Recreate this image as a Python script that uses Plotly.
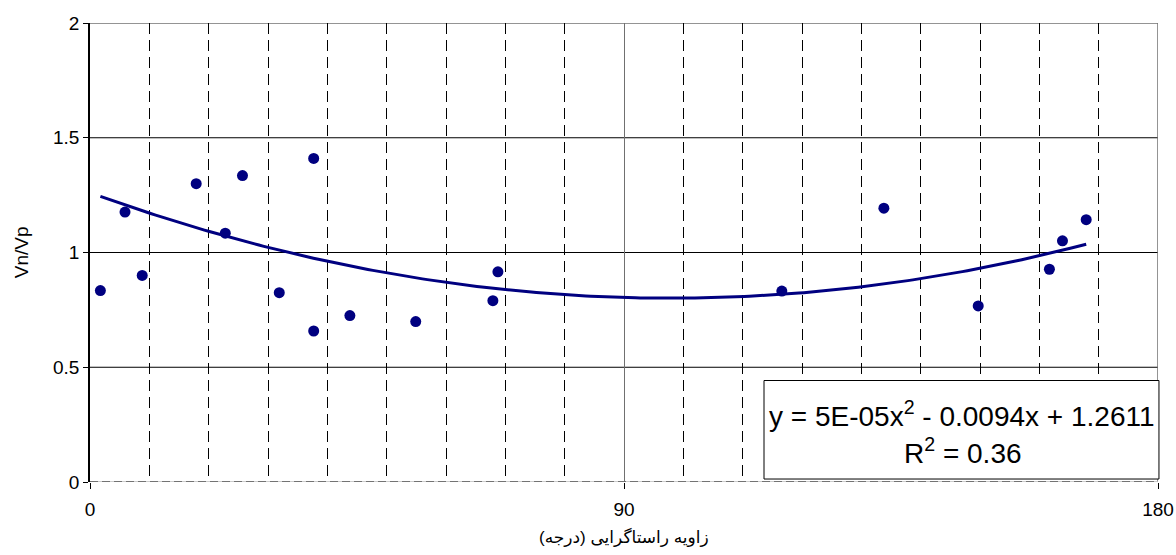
import numpy as np
import plotly.graph_objects as go

# ---- data ----
angle = [1.75, 5.9, 8.8, 17.9, 22.8, 25.7, 31.9, 37.7, 37.7, 43.8, 54.9,
         67.9, 68.75, 116.6, 133.8, 149.7, 161.7, 163.9, 167.9]
ratio = [0.834, 1.176, 0.900, 1.300, 1.084, 1.335, 0.825, 1.410, 0.658, 0.725,
         0.699, 0.790, 0.916, 0.832, 1.193, 0.767, 0.927, 1.051, 1.143]

# trend-line coefficients as shown on the chart (a x^2 + b x + c)
trend_coef = [4.8e-05, -0.0094, 1.2611]

x_ticks = [0, 90, 180]
y_ticks = [0, 0.5, 1, 1.5, 2]
y_grid = [0.5, 1, 1.5]
eq_line1 = "y = 5E-05x<sup>2</sup> - 0.0094x + 1.2611"
eq_line2 = "R<sup>2</sup> = 0.36"
x_title = "زاویه راستاگرایی (درجه)"
y_title = "Vn/Vp"

tx = np.linspace(min(angle), max(angle), 200)
ty = np.polyval(trend_coef, tx)

FONT = "Liberation Sans, Arial, DejaVu Sans, sans-serif"
NAVY = "#000080"

fig = go.Figure()
fig.add_trace(go.Scatter(x=tx, y=ty, mode="lines",
                         line=dict(color=NAVY, width=3), hoverinfo="skip"))
fig.add_trace(go.Scatter(x=angle, y=ratio, mode="markers",
                         marker=dict(color=NAVY, size=11, line=dict(width=0))))

shapes = []
for g in y_grid:
    shapes.append(dict(type="line", xref="x", yref="y", x0=0, x1=180, y0=g, y1=g,
                       line=dict(color="#000000", width=1), layer="below"))
# top and right frame
shapes.append(dict(type="line", xref="x", yref="y", x0=0, x1=180, y0=2, y1=2,
                   line=dict(color="#707070", width=1.5), layer="below"))
shapes.append(dict(type="line", xref="x", yref="y", x0=180, x1=180, y0=0, y1=2,
                   line=dict(color="#707070", width=1.5), layer="below"))
# dashed bottom axis
shapes.append(dict(type="line", xref="x", yref="y", x0=0, x1=180, y0=0, y1=0,
                   line=dict(color="#bbbbbb", width=1.5), layer="above"))
shapes.append(dict(type="line", xref="x", yref="y", x0=0, x1=180, y0=0, y1=0,
                   line=dict(color="#555555", width=1.5, dash="8px,4px"), layer="above"))
# equation box
shapes.append(dict(type="rect", xref="paper", yref="paper",
                   x0=0.6311, x1=1.0009, y0=0.0065, y1=0.2211,
                   fillcolor="white", line=dict(color="#000000", width=1), layer="above"))

annotations = [
    dict(text=eq_line1, xref="paper", yref="paper", x=0.8165, y=0.148,
         showarrow=False, font=dict(family=FONT, size=28, color="black"),
         xanchor="center", yanchor="middle"),
    dict(text=eq_line2, xref="paper", yref="paper", x=0.8175, y=0.068,
         showarrow=False, font=dict(family=FONT, size=28, color="black"),
         xanchor="center", yanchor="middle"),
    dict(text=y_title, xref="paper", yref="paper", x=-0.064, y=0.5,
         textangle=-90, showarrow=False,
         font=dict(family=FONT, size=19, color="black"),
         xanchor="center", yanchor="middle"),
    dict(text=x_title, xref="paper", yref="paper", x=0.5, y=-0.12,
         showarrow=False, font=dict(family=FONT, size=17, color="black"),
         xanchor="center", yanchor="middle"),
]

fig.update_layout(
    width=1176, height=555,
    margin=dict(l=90, r=18, t=23, b=73, autoexpand=False),
    paper_bgcolor="white", plot_bgcolor="white",
    showlegend=False,
    font=dict(family=FONT, size=19, color="black"),
    shapes=shapes, annotations=annotations,
    xaxis=dict(range=[0, 180], tickvals=x_ticks, ticks="outside", ticklen=6,
               tickcolor="black", showline=False, zeroline=False,
               showgrid=True, gridcolor="#707070", gridwidth=1,
               ticklabelstandoff=4,
               minor=dict(dtick=10, tick0=0, showgrid=True, gridcolor="#000000",
                          griddash="11px,6px", gridwidth=1, ticks=""),
               tickfont=dict(family=FONT, size=19, color="black")),
    yaxis=dict(range=[0, 2], tickvals=y_ticks, ticktext=["0", "0.5", "1", "1.5", "2"],
               ticks="outside", ticklen=5, tickcolor="black",
               showline=True, linecolor="black", linewidth=1.5,
               zeroline=False, showgrid=False,
               tickfont=dict(family=FONT, size=19, color="black")),
)

fig.write_html("out.html")
